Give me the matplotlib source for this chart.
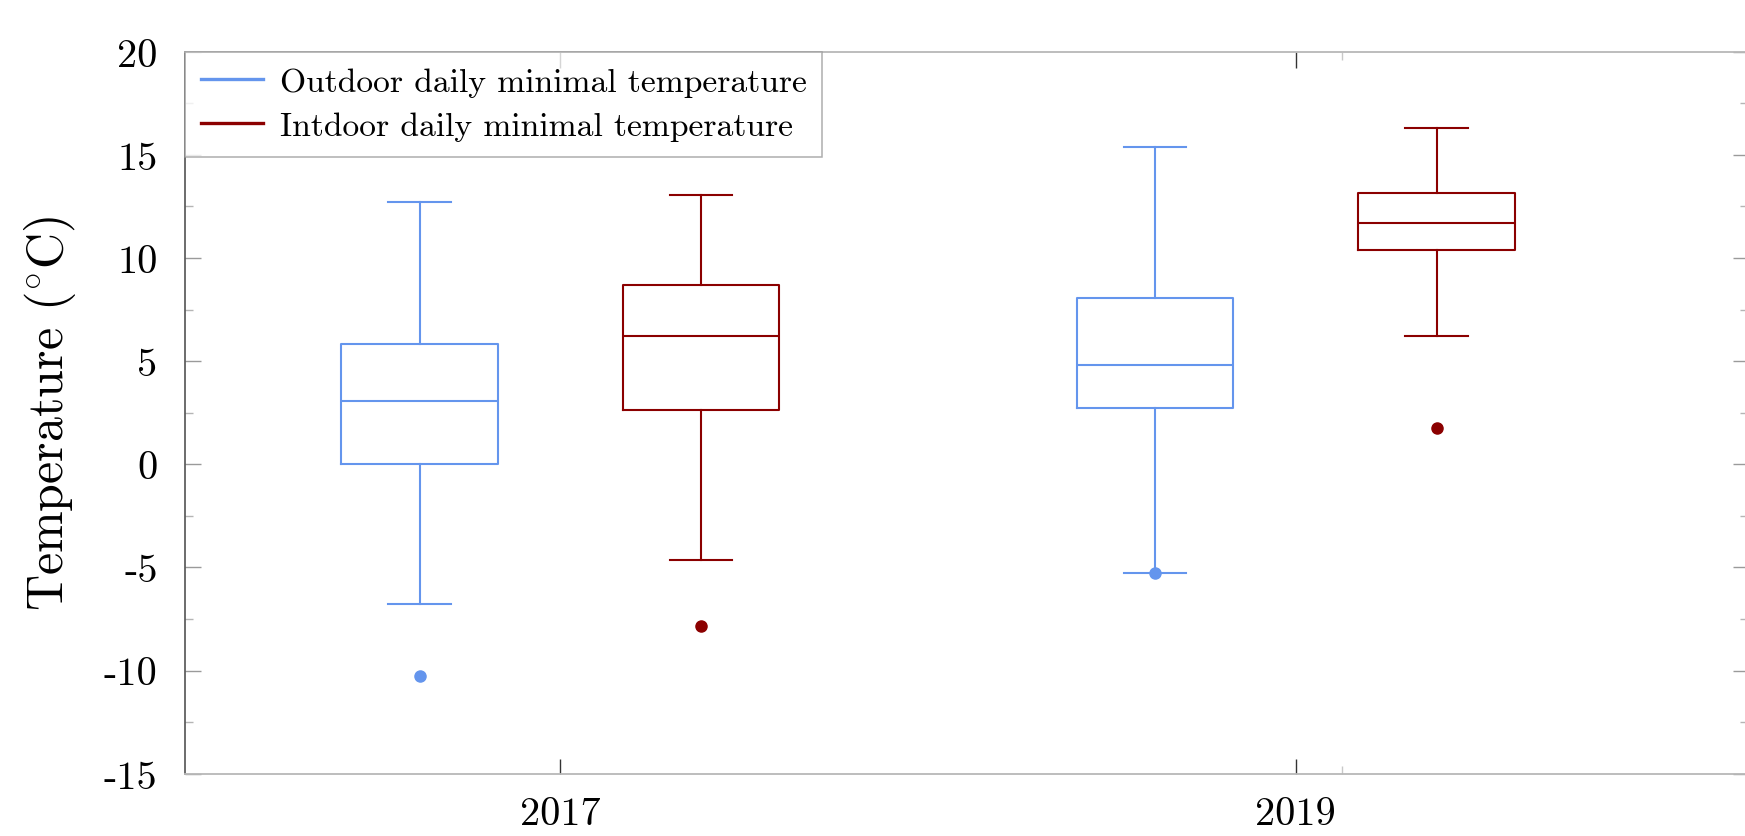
import matplotlib
matplotlib.use("Agg")
import matplotlib.pyplot as plt
from matplotlib.lines import Line2D

# ---------------- data ----------------
years = [2017, 2019]
year_labels = ["2017", "2019"]
series = ["Outdoor daily minimal temperature", "Intdoor daily minimal temperature"]

outdoor_whislo = [-6.75, -5.25]
outdoor_q1 = [0.0, 2.75]
outdoor_med = [3.05, 4.82]
outdoor_q3 = [5.85, 8.08]
outdoor_whishi = [12.7, 15.4]
outdoor_fliers = [[-10.25], [-5.25]]

indoor_whislo = [-4.65, 6.22]
indoor_q1 = [2.63, 10.37]
indoor_med = [6.23, 11.72]
indoor_q3 = [8.67, 13.16]
indoor_whishi = [13.03, 16.31]
indoor_fliers = [[-7.86], [1.74]]

y_ticks = [-15, -10, -5, 0, 5, 10, 15, 20]
y_tick_labels = ["-15", "-10", "-5", "0", "5", "10", "15", "20"]

# ---------------- style ----------------
plt.rcParams["font.family"] = ["cmr10", "DejaVu Serif"]
plt.rcParams["mathtext.fontset"] = "cm"
plt.rcParams["axes.unicode_minus"] = False

BLUE = "#6495ED"
RED = "#8B0000"
offset = 0.383
box_w = 0.426
cap_w = 0.169

fig = plt.figure(figsize=(17.45, 8.37), dpi=100)
ax = fig.add_axes([185.3 / 1745, 1 - 774.7 / 837, (1748 - 185.3) / 1745, (774.7 - 52.7) / 837])


def make_stats(whislo, q1, med, q3, whishi, fliers):
    return [dict(whislo=a, q1=b, med=c, q3=d, whishi=e, fliers=f)
            for a, b, c, d, e, f in zip(whislo, q1, med, q3, whishi, fliers)]


for stats, sign, color in [
    (make_stats(outdoor_whislo, outdoor_q1, outdoor_med, outdoor_q3, outdoor_whishi, outdoor_fliers), -1, BLUE),
    (make_stats(indoor_whislo, indoor_q1, indoor_med, indoor_q3, indoor_whishi, indoor_fliers), 1, RED),
]:
    lw = 1.5
    ax.bxp(stats, positions=[y + sign * offset for y in years], widths=box_w,
           capwidths=cap_w, showfliers=True, manage_ticks=False,
           boxprops=dict(color=color, linewidth=lw),
           whiskerprops=dict(color=color, linewidth=lw),
           capprops=dict(color=color, linewidth=lw),
           medianprops=dict(color=color, linewidth=lw),
           flierprops=dict(marker="o", markerfacecolor=color, markeredgecolor=color,
                           markersize=8, linestyle="none"))

ax.set_xlim(2015.98, 2020.23)
ax.set_ylim(-15, 20)

ax.set_yticks(y_ticks)
ax.set_yticklabels(y_tick_labels)
ax.set_yticks([v + 2.5 for v in y_ticks[:-1]], minor=True)
ax.set_xticks(years)
ax.set_xticklabels(year_labels)
ax.set_xticks([2019.125], minor=True)

ax.tick_params(axis="both", which="both", direction="in", top=True, right=True)
ax.tick_params(axis="y", which="major", length=15.5 * 0.72, width=1.0, color="#9a9a9a",
               labelsize=29, pad=20)
ax.tick_params(axis="y", which="minor", length=8 * 0.72, width=1.0, color="#b5b5b5")
ax.tick_params(axis="x", which="major", length=15.5 * 0.72, width=1.0, color="#333333",
               labelsize=29, pad=16)
ax.tick_params(axis="x", which="minor", length=8 * 0.72, width=1.0, color="#c8c8c8")

for name, sp in ax.spines.items():
    sp.set_linewidth(1.3)
    sp.set_color("#b8b8b8")
ax.spines["left"].set_color("#444444")
ax.spines["left"].set_linewidth(1.1)

ax.set_ylabel(r"Temperature ($^{\circ}$C)", fontsize=36)
ax.yaxis.set_label_coords(-0.0687, 0.5)

handles = [Line2D([], [], color=BLUE, linewidth=2.4), Line2D([], [], color=RED, linewidth=2.4)]
leg = ax.legend(handles, series, loc="upper left", bbox_to_anchor=(0, 1), borderaxespad=0,
                fontsize=24.2, frameon=True, fancybox=False, handlelength=1.84,
                handletextpad=0.5, borderpad=0.47, labelspacing=0.43)
leg.get_frame().set_edgecolor("#9a9a9a")
leg.get_frame().set_linewidth(1.1)

fig.savefig("out.png", dpi=100)
